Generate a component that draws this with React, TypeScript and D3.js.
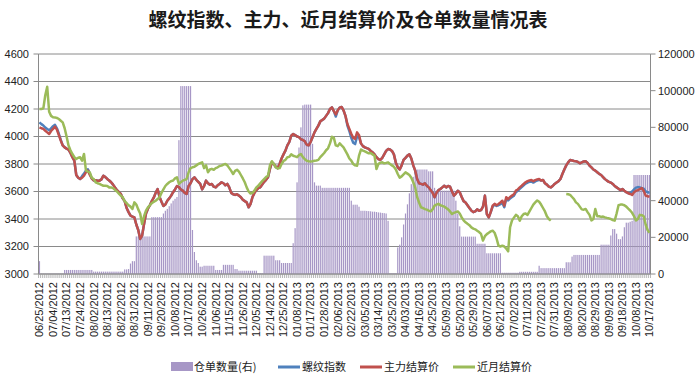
import React from 'react';
import * as d3 from 'd3';

const W = 698;
const H = 382;

const title = '螺纹指数、主力、近月结算价及仓单数量情况表';

const tickLabels = [
  '06/25/2012', '07/04/2012', '07/13/2012', '07/24/2012', '08/02/2012', '08/13/2012', '08/22/2012', '08/31/2012',
  '09/11/2012', '09/20/2012', '10/08/2012', '10/17/2012', '10/26/2012', '11/06/2012', '11/15/2012', '11/26/2012',
  '12/05/2012', '12/14/2012', '12/25/2012', '01/08/2013', '01/17/2013', '01/28/2013', '02/06/2013', '02/22/2013',
  '03/05/2013', '03/14/2013', '03/25/2013', '04/03/2013', '04/16/2013', '04/25/2013', '05/09/2013', '05/20/2013',
  '05/29/2013', '06/07/2013', '06/21/2013', '07/02/2013', '07/11/2013', '07/22/2013', '07/31/2013', '08/09/2013',
  '08/20/2013', '08/29/2013', '09/09/2013', '09/18/2013', '10/08/2013', '10/17/2013',
];
const labelStep = 7;

const leftTicks = [3000, 3200, 3400, 3600, 3800, 4000, 4200, 4400, 4600];
const rightTicks = [0, 20000, 40000, 60000, 80000, 100000, 120000];

const seriesNames = ['仓单数量(右)', '螺纹指数', '主力结算价', '近月结算价'];
const seriesColors = ['#a797c6', '#4f81bd', '#c0504d', '#9bbb59'];

// 仓单数量 (right axis)
const receipts = [
  7000, 200, 200, 200, 200, 200, 200, 200, 200, 200,
  200, 200, 200, 2200, 2200, 2200, 2200, 2200, 2200, 2200,
  2200, 2200, 2200, 2200, 2200, 2200, 2200, 2200, 1300, 1300,
  1300, 1300, 1300, 1300, 1300, 1300, 1300, 1300, 1300, 1300,
  1300, 1300, 1300, 1300, 2500, 2500, 2700, 5700, 7000, 7000,
  20500, 20500, 20500, 20500, 20500, 20500, 20500, 20500, 31000, 31000,
  31000, 31000, 31000, 31000, 33000, 34500, 35500, 37000, 38500, 40000,
  41000, 42000, 73000, 102500, 102500, 102500, 102500, 102500, 102500, 24000,
  12000, 7500, 6000, 4000, 4000, 4500, 4500, 4500, 4500, 4500,
  4500, 2200, 2200, 2200, 2200, 5000, 5000, 5000, 5000, 5000,
  5000, 2700, 2700, 1800, 1800, 1800, 1800, 1800, 1800, 1800,
  1800, 1800, 1800, 400, 400, 400, 10000, 10000, 10000, 10000,
  10000, 10000, 7500, 7500, 7500, 6000, 6000, 6000, 6000, 6000,
  6000, 16800, 25000, 50000, 69000, 80000, 92000, 92400, 92400, 92400,
  92400, 71000, 50000, 48200, 48200, 48200, 47000, 47000, 47000, 47000,
  47000, 47000, 47000, 47000, 47000, 47000, 47000, 47000, 47000, 47000,
  47000, 40000, 37800, 37800, 37800, 36700, 34500, 34500, 34500, 34400,
  34300, 34200, 34000, 34000, 33800, 33600, 33500, 33300, 33200, 33000,
  29000, 400, 400, 400, 400, 14500, 16000, 20000, 27000, 33000,
  38000, 44000, 49000, 53000, 56000, 57000, 57000, 57000, 57000, 57000,
  57000, 56000, 56000, 56000, 47000, 45500, 45500, 45500, 45500, 45500,
  45500, 45500, 45500, 45500, 45500, 40000, 33000, 26000, 20400, 20400,
  20400, 20400, 20400, 20400, 20400, 20400, 16500, 16500, 16500, 16500,
  16500, 11300, 11300, 11300, 11300, 11300, 11300, 11300, 11300, 700,
  700, 700, 700, 700, 700, 700, 700, 700, 1200, 1200,
  1200, 1200, 1200, 1200, 1200, 1200, 1200, 1200, 4500, 3200,
  3200, 3200, 3200, 3200, 3200, 3200, 3200, 3200, 3200, 3200,
  3200, 3200, 6400, 6400, 6400, 9500, 10400, 10400, 10400, 10400,
  10400, 10400, 10400, 10400, 10400, 10400, 10400, 10400, 10400, 10400,
  16000, 16000, 16000, 16000, 16000, 21000, 24500, 24500, 22000, 19000,
  19000, 20500, 25500, 28000, 28000, 28500, 29000, 54000, 54000, 54000,
  54000, 54000, 54000, 54000, 54000, 54000,
];

// 螺纹指数
const rebarIndex = [
  4103, 4090, 4080, 4065, 4055, 4045, 4060, 4075, 4085, 4060,
  4020, 3975, 3935, 3921, 3912, 3905, 3880, 3850, 3824, 3720,
  3700, 3691, 3712, 3730, 3752, 3762, 3730, 3695, 3680, 3682,
  3678, 3679, 3688, 3715, 3705, 3691, 3680, 3667, 3650, 3630,
  3610, 3595, 3582, 3550, 3530, 3480, 3450, 3424, 3418, 3412,
  3360, 3320, 3255, 3279, 3364, 3440, 3475, 3500, 3530, 3555,
  3590, 3618, 3560, 3525, 3495, 3505, 3533, 3550, 3570, 3595,
  3615, 3640, 3632, 3615, 3606, 3590, 3582, 3640, 3660, 3690,
  3703, 3685, 3670, 3655, 3615, 3640, 3679, 3660, 3650, 3655,
  3635, 3630, 3645, 3655, 3667, 3660, 3645, 3655, 3630, 3590,
  3580, 3575, 3580, 3570, 3558, 3540, 3530, 3521, 3485, 3510,
  3560, 3590, 3610, 3625, 3630, 3650, 3670, 3685, 3703, 3764,
  3812, 3800, 3780, 3770, 3800, 3840, 3870, 3897, 3935, 3960,
  4006, 4018, 4010, 4000, 3995, 3980, 3975, 3965, 3940, 3935,
  3960, 3994, 4030, 4055, 4079, 4110, 4120, 4130, 4150, 4170,
  4200, 4212, 4185, 4145, 4190, 4210, 4215, 4190, 4150, 4080,
  4040, 3990, 3955, 3945, 4000, 3995, 3950, 3930, 3921, 3915,
  3910, 3895, 3885, 3870, 3850, 3836, 3830, 3845, 3870, 3895,
  3909, 3905, 3895, 3870, 3810, 3776, 3760, 3790, 3830, 3845,
  3861, 3870, 3840, 3790, 3752, 3691, 3660, 3655, 3650, 3660,
  3642, 3630, 3610, 3590, 3558, 3590, 3610, 3618, 3630, 3642,
  3630, 3640, 3635, 3600, 3570, 3585, 3605, 3595, 3560, 3530,
  3520, 3500, 3480, 3461, 3450, 3455, 3470, 3460, 3465, 3490,
  3570, 3436, 3412, 3450, 3490, 3505, 3495, 3500, 3508, 3518,
  3485, 3545, 3535, 3550, 3560, 3570, 3595, 3605, 3620, 3632,
  3645, 3657, 3665, 3670, 3673, 3665, 3673, 3680, 3685, 3680,
  3684, 3660, 3650, 3635, 3630, 3640, 3655, 3665, 3675, 3691,
  3727, 3760, 3790, 3812, 3829, 3826, 3822, 3820, 3815, 3805,
  3812, 3818, 3820, 3808, 3788, 3775, 3760, 3752, 3740, 3728,
  3720, 3705, 3690, 3679, 3670, 3665, 3655, 3640, 3630, 3620,
  3610, 3618, 3606, 3595, 3587, 3590, 3600, 3615, 3628, 3632,
  3630, 3625, 3620, 3600, 3595, 3590,
];

// 主力结算价
const mainSettle = [
  4067, 4060, 4055, 4042, 4030, 4018, 4040, 4055, 4072, 4050,
  4010, 3970, 3935, 3921, 3912, 3905, 3880, 3850, 3824, 3720,
  3700, 3691, 3700, 3715, 3740, 3752, 3720, 3695, 3680, 3682,
  3678, 3679, 3688, 3715, 3705, 3691, 3680, 3667, 3650, 3630,
  3610, 3595, 3582, 3550, 3530, 3480, 3450, 3424, 3418, 3412,
  3360, 3320, 3255, 3279, 3364, 3440, 3475, 3500, 3530, 3555,
  3590, 3618, 3560, 3525, 3495, 3505, 3533, 3550, 3570, 3595,
  3615, 3640, 3632, 3615, 3606, 3590, 3582, 3640, 3660, 3690,
  3703, 3685, 3670, 3655, 3615, 3640, 3679, 3660, 3650, 3655,
  3635, 3630, 3645, 3655, 3667, 3660, 3645, 3655, 3630, 3590,
  3580, 3575, 3580, 3570, 3558, 3540, 3530, 3521, 3485, 3510,
  3560, 3590, 3610, 3625, 3630, 3650, 3670, 3685, 3703, 3764,
  3812, 3800, 3780, 3770, 3800, 3840, 3870, 3897, 3935, 3960,
  4006, 4018, 4010, 4000, 3995, 3980, 3975, 3965, 3940, 3935,
  3960, 3994, 4030, 4055, 4079, 4110, 4120, 4130, 4150, 4170,
  4200, 4212, 4185, 4160, 4190, 4210, 4215, 4190, 4150, 4091,
  4055, 4020, 3990, 3982, 4030, 4010, 3950, 3930, 3921, 3915,
  3910, 3895, 3885, 3870, 3850, 3836, 3830, 3845, 3870, 3895,
  3909, 3905, 3895, 3870, 3810, 3776, 3760, 3790, 3830, 3845,
  3861, 3870, 3840, 3790, 3752, 3691, 3660, 3655, 3650, 3660,
  3642, 3630, 3610, 3590, 3558, 3590, 3610, 3618, 3630, 3642,
  3630, 3640, 3635, 3600, 3570, 3585, 3605, 3595, 3560, 3530,
  3520, 3500, 3480, 3461, 3450, 3455, 3470, 3460, 3465, 3490,
  3570, 3436, 3412, 3450, 3497, 3510, 3500, 3509, 3520, 3533,
  3497, 3558, 3545, 3560, 3570, 3580, 3606, 3615, 3630, 3642,
  3655, 3667, 3675, 3680, 3683, 3675, 3683, 3688, 3691, 3680,
  3684, 3660, 3650, 3635, 3630, 3640, 3655, 3665, 3675, 3691,
  3727, 3760, 3790, 3812, 3829, 3826, 3822, 3820, 3815, 3805,
  3812, 3818, 3820, 3808, 3788, 3775, 3760, 3752, 3740, 3728,
  3720, 3705, 3690, 3679, 3670, 3665, 3655, 3640, 3630, 3620,
  3610, 3618, 3606, 3595, 3587, 3582, 3575, 3595, 3606, 3610,
  3618, 3625, 3606, 3570, 3565, 3562,
];

// 近月结算价 (null = no value)
const nearSettle: (number | null)[] = [
  4200, 4200, 4205, 4300, 4362, 4180, 4150, 4140, 4139, 4135,
  4127, 4115, 4103, 4060, 4000, 3935, 3900, 3873, 3850, 3836,
  3845, 3849, 3824, 3873, 3752, 3745, 3739, 3700, 3691, 3667,
  3660, 3655, 3648, 3642, 3642, 3640, 3630, 3630, 3625, 3612,
  3600, 3585, 3570, 3558, 3530, 3515, 3500, 3490, 3473, 3521,
  3505, 3470, 3440, 3364, 3420, 3461, 3485, 3500, 3515, 3525,
  3533, 3545, 3558, 3590, 3615, 3640, 3655, 3667, 3675, 3680,
  3695, 3703, 3655, 3668, 3679, 3685, 3691, 3740, 3770, 3776,
  3780, 3790, 3800, 3806, 3812, 3770, 3790, 3740, 3760, 3765,
  3758, 3770, 3776, 3785, 3788, 3795, 3800, 3790, 3770, 3750,
  3727, 3750, 3758, 3745, 3720, 3695, 3667, 3630, 3600, 3585,
  3590, 3606, 3630, 3642, 3660, 3675, 3690, 3705, 3715, 3790,
  3820, 3800, 3776, 3768, 3770, 3800, 3822, 3830, 3849, 3852,
  3870, 3860, 3855, 3850, 3865, 3873, 3850, 3835, 3824, 3820,
  3818, 3820, 3824, 3826, 3830, 3850, 3865, 3880, 3900, 3914,
  3950, 3998, 3990, 3935, 3930, 3950, 3935, 3921, 3895, 3870,
  3840, 3824, 3800, 3790, 3788, 3861, 3905, 3897, 3892, 3885,
  3878, 3880, 3870, 3860, 3764, 3800, 3810, 3812, 3805, 3808,
  3812, 3800, 3790, 3780, 3760, 3727, 3700, 3710, 3725, 3739,
  3730, 3720, 3700, 3667, 3630, 3560, 3520, 3485, 3480, 3472,
  3468, 3461, 3455, 3470, 3497, 3505, 3510, 3500, 3495, 3490,
  3480, 3470, 3455, 3436, 3445, 3450, 3455, 3440, 3412, 3390,
  3376, 3365, 3355, 3339, 3330, 3325, 3315, 3305, 3291, 3243,
  3275, 3290, 3300, 3310, 3315, 3300, 3260, 3206, 3200, 3206,
  3200, 3185, 3165, 3340, 3390, 3410, 3430, 3420, 3388, 3420,
  3436, 3440, 3430, 3455, 3480, 3505, 3521, 3535, 3525, 3505,
  3480, 3455, 3420, 3400, 3388, null, null, null, null, null,
  null, null, 3582, 3580, 3575, 3560, 3545, 3521, 3510, 3490,
  3470, 3468, 3473, 3450, 3430, 3390, 3400, 3473, 3420, 3420,
  3415, 3418, 3412, 3408, 3405, 3400, 3392, 3388, 3440, 3500,
  3505, 3505, 3500, 3490, 3475, 3462, 3445, 3420, 3390, 3400,
  3430, 3428, 3420, 3360, 3320, 3300,
];

const NUM_FONT = '"Liberation Sans", Arial, sans-serif';
const CJK_FONT = '"Noto Sans CJK SC", "Noto Sans", sans-serif';

export default function App() {
  const N = mainSettle.length;
  const plotL = 38.5;
  const plotR = 650.5;
  const plotT = 54;
  const plotB = 274;

  const x = d3.scaleBand<number>().domain(d3.range(N)).range([plotL, plotR]).padding(0);
  const bw = x.bandwidth();
  const cx = (i: number) => (x(i) as number) + bw / 2;
  const yL = d3.scaleLinear().domain([3000, 4600]).range([plotB, plotT]);
  const yR = d3.scaleLinear().domain([0, 120000]).range([plotB, plotT]);

  const line = d3
    .line<number | null>()
    .defined((d) => d != null)
    .x((_, i) => cx(i))
    .y((d) => yL(d as number));

  const barW = bw * 0.62;
  const gridColor = '#8a8a8a';

  const legendItems = [
    { kind: 'rect', x0: 171, x1: 193, tx: 194, name: seriesNames[0], color: seriesColors[0] },
    { kind: 'line', x0: 278, x1: 300, tx: 302, name: seriesNames[1], color: seriesColors[1] },
    { kind: 'line', x0: 360, x1: 382, tx: 384, name: seriesNames[2], color: seriesColors[2] },
    { kind: 'line', x0: 453, x1: 475, tx: 477, name: seriesNames[3], color: seriesColors[3] },
  ];
  const legendY = 367;

  return (
    <svg
      width={W}
      height={H}
      viewBox={`0 0 ${W} ${H}`}
      style={{ position: 'absolute', left: 0, top: 0, background: '#fff' }}
    >
      <rect x={0} y={0} width={W} height={H} fill="#fff" />
      <text
        x={348}
        y={27}
        textAnchor="middle"
        fontFamily={CJK_FONT}
        fontWeight={700}
        fontSize={19}
        fill="#1a1a1a"
      >
        {title}
      </text>

      {/* gridlines */}
      {leftTicks.map((t) => (
        <line key={'g' + t} x1={plotL} x2={plotR} y1={yL(t)} y2={yL(t)} stroke={gridColor} strokeWidth={1} />
      ))}

      {/* bars */}
      {receipts.map((v, i) => (
        <rect
          key={'b' + i}
          x={cx(i) - barW / 2}
          y={yR(v)}
          width={barW}
          height={plotB - yR(v)}
          fill={seriesColors[0]}
        />
      ))}

      {/* lines */}
      <path d={line(rebarIndex) || ''} fill="none" stroke={seriesColors[1]} strokeWidth={2.5} strokeLinejoin="round" />
      <path d={line(mainSettle) || ''} fill="none" stroke={seriesColors[2]} strokeWidth={2.5} strokeLinejoin="round" />
      <path d={line(nearSettle) || ''} fill="none" stroke={seriesColors[3]} strokeWidth={2.5} strokeLinejoin="round" />

      {/* axes */}
      <line x1={plotL} x2={plotL} y1={plotT} y2={plotB} stroke={gridColor} />
      <line x1={plotR} x2={plotR} y1={plotT} y2={plotB} stroke={gridColor} />
      <line x1={plotL} x2={plotR} y1={plotB} y2={plotB} stroke={gridColor} />
      {leftTicks.map((t) => (
        <g key={'lt' + t}>
          <line x1={plotL - 5} x2={plotL} y1={yL(t)} y2={yL(t)} stroke={gridColor} />
          <text x={29} y={yL(t)} dy="0.35em" textAnchor="end" fontFamily={NUM_FONT} fontSize={11} fill="#222">
            {t}
          </text>
        </g>
      ))}
      {rightTicks.map((t) => (
        <g key={'rt' + t}>
          <line x1={plotR} x2={plotR + 5} y1={yR(t)} y2={yR(t)} stroke={gridColor} />
          <text x={658} y={yR(t)} dy="0.35em" textAnchor="start" fontFamily={NUM_FONT} fontSize={11} fill="#222">
            {t}
          </text>
        </g>
      ))}
      {d3.range(N + 1).map((i) => {
        const xx = plotL + i * bw;
        return <line key={'xt' + i} x1={xx} x2={xx} y1={plotB} y2={plotB + 4} stroke="#9a9a9a" strokeWidth={0.7} />;
      })}
      {tickLabels.map((lab, k) => {
        const i = k * labelStep;
        return (
          <text
            key={'xl' + k}
            transform={`translate(${cx(i)},${plotB + 8}) rotate(-90)`}
            dy="0.35em"
            textAnchor="end"
            fontFamily={NUM_FONT}
            fontSize={11}
            fill="#222"
          >
            {lab}
          </text>
        );
      })}

      {/* legend */}
      {legendItems.map((it) => (
        <g key={it.name}>
          {it.kind === 'rect' ? (
            <rect x={it.x0} y={legendY - 5} width={it.x1 - it.x0} height={9} fill={it.color} />
          ) : (
            <line x1={it.x0} x2={it.x1} y1={legendY} y2={legendY} stroke={it.color} strokeWidth={3} />
          )}
          <text x={it.tx} y={legendY} dy="0.35em" fontFamily={CJK_FONT} fontSize={11} fill="#222">
            {it.name}
          </text>
        </g>
      ))}
    </svg>
  );
}
